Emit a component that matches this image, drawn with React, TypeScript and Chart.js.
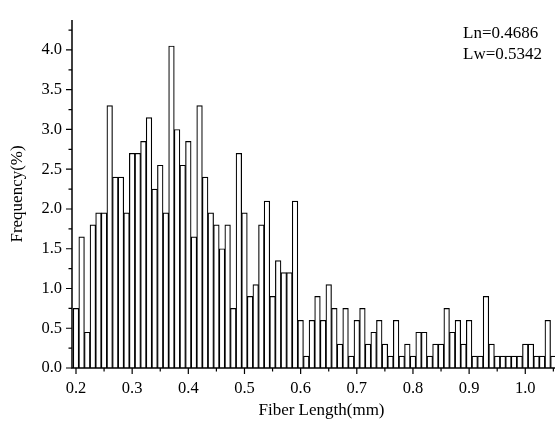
import React, { useEffect, useRef } from 'react';
import { Chart, registerables } from 'chart.js';

Chart.register(...registerables);

// ---- data ----
const FIBER_LENGTH_MM = [
  0.20, 0.21, 0.22, 0.23, 0.24, 0.25, 0.26, 0.27, 0.28, 0.29,
  0.30, 0.31, 0.32, 0.33, 0.34, 0.35, 0.36, 0.37, 0.38, 0.39,
  0.40, 0.41, 0.42, 0.43, 0.44, 0.45, 0.46, 0.47, 0.48, 0.49,
  0.50, 0.51, 0.52, 0.53, 0.54, 0.55, 0.56, 0.57, 0.58, 0.59,
  0.60, 0.61, 0.62, 0.63, 0.64, 0.65, 0.66, 0.67, 0.68, 0.69,
  0.70, 0.71, 0.72, 0.73, 0.74, 0.75, 0.76, 0.77, 0.78, 0.79,
  0.80, 0.81, 0.82, 0.83, 0.84, 0.85, 0.86, 0.87, 0.88, 0.89,
  0.90, 0.91, 0.92, 0.93, 0.94, 0.95, 0.96, 0.97, 0.98, 0.99,
  1.00, 1.01, 1.02, 1.03, 1.04, 1.05,
];

const FREQUENCY_PCT = [
  0.75, 1.65, 0.45, 1.80, 1.95, 1.95, 3.30, 2.40, 2.40, 1.95,
  2.70, 2.70, 2.85, 3.15, 2.25, 2.55, 1.95, 4.05, 3.00, 2.55,
  2.85, 1.65, 3.30, 2.40, 1.95, 1.80, 1.50, 1.80, 0.75, 2.70,
  1.95, 0.90, 1.05, 1.80, 2.10, 0.90, 1.35, 1.20, 1.20, 2.10,
  0.60, 0.15, 0.60, 0.90, 0.60, 1.05, 0.75, 0.30, 0.75, 0.15,
  0.60, 0.75, 0.30, 0.45, 0.60, 0.30, 0.15, 0.60, 0.15, 0.30,
  0.15, 0.45, 0.45, 0.15, 0.30, 0.30, 0.75, 0.45, 0.60, 0.30,
  0.60, 0.15, 0.15, 0.90, 0.30, 0.15, 0.15, 0.15, 0.15, 0.15,
  0.30, 0.30, 0.15, 0.15, 0.60, 0.15,
];

const X_MAJOR_TICKS = [0.2, 0.3, 0.4, 0.5, 0.6, 0.7, 0.8, 0.9, 1.0];
const X_MINOR_TICKS = [0.25, 0.35, 0.45, 0.55, 0.65, 0.75, 0.85, 0.95, 1.05];
const Y_MAJOR_TICKS = [0, 0.5, 1.0, 1.5, 2.0, 2.5, 3.0, 3.5, 4.0];
const Y_MINOR_TICKS = [0.25, 0.75, 1.25, 1.75, 2.25, 2.75, 3.25, 3.75, 4.25];

const X_TITLE = 'Fiber Length(mm)';
const Y_TITLE = 'Frequency(%)';
const STATS_LINES = ['Ln=0.4686', 'Lw=0.5342'];

const X_MIN = 0.19288;
const X_MAX = 1.08141;
const Y_MIN = 0;
const Y_MAX = 4.378;

const FONT = "'Liberation Serif', 'Times New Roman', Times, serif";

const axesPlugin = {
  id: 'originAxes',
  afterDatasetsDraw(chart: any) {
    const { ctx, chartArea, scales } = chart;
    const { left, right, top, bottom } = chartArea;
    const xs = scales.x;
    const ys = scales.y;
    ctx.save();
    ctx.strokeStyle = '#000';
    ctx.lineWidth = 1.5;
    ctx.beginPath();
    ctx.moveTo(left, top);
    ctx.lineTo(left, bottom);
    ctx.lineTo(right, bottom);
    ctx.stroke();
    ctx.lineWidth = 1.2;
    ctx.beginPath();
    Y_MAJOR_TICKS.forEach((v) => {
      const p = ys.getPixelForValue(v);
      ctx.moveTo(left - 6, p);
      ctx.lineTo(left, p);
    });
    Y_MINOR_TICKS.forEach((v) => {
      const p = ys.getPixelForValue(v);
      ctx.moveTo(left - 3.5, p);
      ctx.lineTo(left, p);
    });
    X_MAJOR_TICKS.forEach((v) => {
      const p = xs.getPixelForValue(v);
      ctx.moveTo(p, bottom);
      ctx.lineTo(p, bottom + 6);
    });
    X_MINOR_TICKS.forEach((v) => {
      const p = xs.getPixelForValue(v);
      ctx.moveTo(p, bottom);
      ctx.lineTo(p, bottom + 3.5);
    });
    ctx.stroke();
    ctx.restore();
  },
};

const statsPlugin = {
  id: 'statsText',
  afterDraw(chart: any) {
    const { ctx } = chart;
    ctx.save();
    ctx.font = `17px ${FONT}`;
    ctx.fillStyle = '#000';
    ctx.textAlign = 'left';
    ctx.textBaseline = 'alphabetic';
    STATS_LINES.forEach((line, i) => {
      ctx.fillText(line, 463, 38.3 + i * 21);
    });
    ctx.restore();
  },
};

export default function App() {
  const canvasRef = useRef<HTMLCanvasElement>(null);

  useEffect(() => {
    document.body.style.margin = '0';
    const canvas = canvasRef.current;
    if (!canvas) return;
    Chart.defaults.color = '#000';
    Chart.defaults.font.family = FONT;

    const chart = new Chart(canvas, {
      type: 'bar',
      data: {
        datasets: [
          {
            data: FIBER_LENGTH_MM.map((x, i) => ({ x, y: FREQUENCY_PCT[i] })),
            backgroundColor: '#ffffff',
            borderColor: '#000000',
            borderWidth: 1.2,
            borderSkipped: 'start',
            barPercentage: 1,
            categoryPercentage: 1,
          } as any,
        ],
      },
      options: {
        responsive: false,
        animation: false,
        devicePixelRatio: 1,
        layout: { padding: { top: 9, left: 0, right: 0, bottom: 0 } },
        plugins: {
          legend: { display: false },
          tooltip: { enabled: false },
        },
        scales: {
          x: {
            type: 'linear',
            position: 'bottom',
            min: X_MIN,
            max: X_MAX,
            offset: false,
            grid: { display: false, drawTicks: false },
            border: { display: false },
            ticks: {
              font: { size: 16.5, family: FONT },
              color: '#000',
              padding: 10.5,
              autoSkip: false,
              maxRotation: 0,
              minRotation: 0,
              callback: (v: any) => Number(v).toFixed(1),
            },
            title: {
              display: true,
              text: X_TITLE,
              font: { size: 17, family: FONT },
              color: '#000',
              padding: { top: 0, bottom: 8 },
            },
            afterBuildTicks: (scale: any) => {
              scale.ticks = X_MAJOR_TICKS.map((value) => ({ value }));
            },
            afterFit: (scale: any) => {
              scale.height = 61;
            },
          },
          y: {
            type: 'linear',
            position: 'left',
            min: Y_MIN,
            max: Y_MAX,
            grid: { display: false, drawTicks: false },
            border: { display: false },
            ticks: {
              font: { size: 16.5, family: FONT },
              color: '#000',
              padding: 10,
              autoSkip: false,
              callback: (v: any) => Number(v).toFixed(1),
            },
            title: {
              display: true,
              text: Y_TITLE,
              font: { size: 17, family: FONT },
              color: '#000',
              padding: { top: 7.5, bottom: 0 },
            },
            afterBuildTicks: (scale: any) => {
              scale.ticks = Y_MAJOR_TICKS.map((value) => ({ value }));
            },
            afterFit: (scale: any) => {
              scale.width = 72;
            },
          },
        },
      } as any,
      plugins: [axesPlugin, statsPlugin],
    });

    return () => chart.destroy();
  }, []);

  return (
    <div
      style={{
        position: 'fixed',
        left: 0,
        top: 0,
        width: 555,
        height: 429,
        overflow: 'hidden',
        background: '#ffffff',
      }}
    >
      <canvas
        ref={canvasRef}
        width={571}
        height={429}
        style={{ display: 'block', width: '571px', height: '429px' }}
      />
    </div>
  );
}
